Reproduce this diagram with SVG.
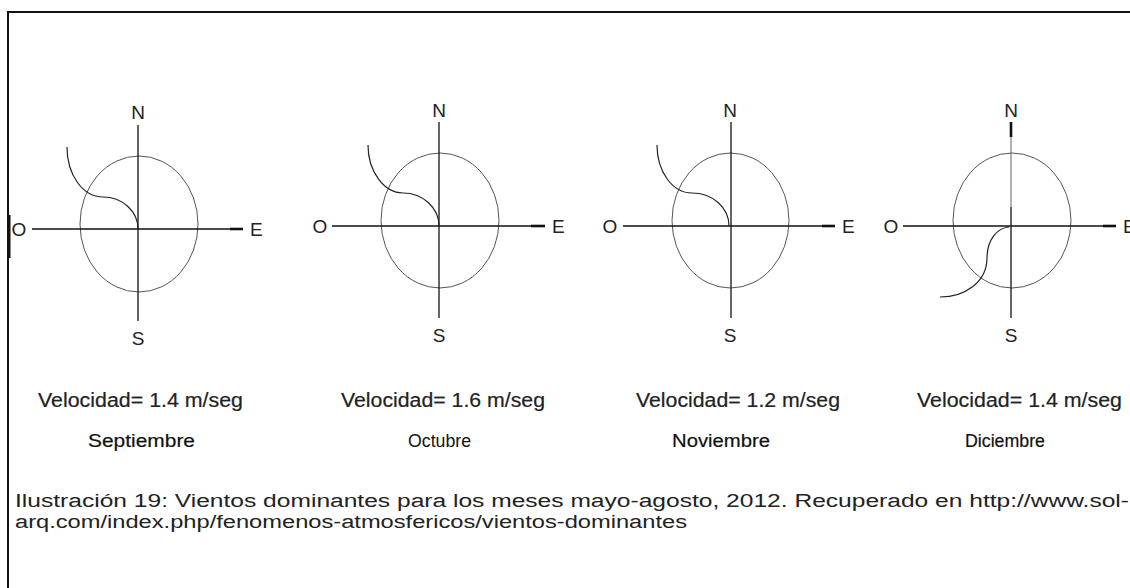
<svg xmlns="http://www.w3.org/2000/svg" width="1130" height="588" viewBox="0 0 1130 588">
<style>
.ax{stroke:#111;stroke-width:1.3;fill:none}
.tk{stroke:#111;stroke-width:2.6;fill:none}
.el{stroke:#555;stroke-width:1;fill:none}
.wd{stroke:#222;stroke-width:1.2;fill:none}
.lb{font-family:"Liberation Sans",Arial,sans-serif;font-size:19px;fill:#222}
.vel{font-family:"Liberation Sans",Arial,sans-serif;font-size:20px;fill:#222;stroke:#222;stroke-width:0.2}
.mon{font-family:"Liberation Sans",Arial,sans-serif;font-size:18px;fill:#111}
.bd{stroke:#111;stroke-width:0.2}
.cap{font-family:"Liberation Sans",Arial,sans-serif;font-size:18px;fill:#222}
</style>
<rect width="1130" height="588" fill="#fff"/>
<g id="frame">
<path d="M8,588 V12 H1130" stroke="#111" stroke-width="2" fill="none"/>
<rect x="7" y="215" width="3.5" height="43" fill="#111"/>
</g>
<g id="septiembre">
<ellipse class="el" cx="139" cy="224" rx="59" ry="68"/>
<line class="ax" x1="138" y1="125" x2="138" y2="321"/>
<line class="ax" x1="32" y1="229" x2="243" y2="229"/>
<line class="tk" x1="230" y1="229" x2="243" y2="229"/>
<path class="wd" d="M67,147 C67,175 83,197 103,197 C122,197 138,211 138,229"/>
<text class="lb" x="138" y="119" text-anchor="middle">N</text>
<text class="lb" x="138" y="345" text-anchor="middle">S</text>
<text class="lb" x="19" y="236" text-anchor="middle">O</text>
<text class="lb" x="250" y="236">E</text>
<text class="vel" x="38" y="407" textLength="205" lengthAdjust="spacingAndGlyphs">Velocidad= 1.4 m/seg</text>
<text class="mon bd" x="88" y="447" textLength="107" lengthAdjust="spacingAndGlyphs">Septiembre</text>
</g>
<g id="octubre">
<ellipse class="el" cx="440" cy="220.5" rx="59" ry="67.5"/>
<line class="ax" x1="439" y1="122" x2="439" y2="318"/>
<line class="ax" x1="332" y1="226" x2="545" y2="226"/>
<line class="tk" x1="531" y1="226" x2="545" y2="226"/>
<path class="wd" d="M368,145 C368,171.5 384,193 403,193 C423,193 439,208 439,226"/>
<text class="lb" x="439" y="117" text-anchor="middle">N</text>
<text class="lb" x="439" y="342" text-anchor="middle">S</text>
<text class="lb" x="320" y="233" text-anchor="middle">O</text>
<text class="lb" x="552" y="233">E</text>
<text class="vel" x="341" y="407" textLength="204" lengthAdjust="spacingAndGlyphs">Velocidad= 1.6 m/seg</text>
<text class="mon" x="408" y="447" textLength="63" lengthAdjust="spacingAndGlyphs">Octubre</text>
</g>
<g id="noviembre">
<ellipse class="el" cx="730.5" cy="220.5" rx="58.5" ry="67.5"/>
<line class="ax" x1="731" y1="122" x2="731" y2="318"/>
<line class="ax" x1="623" y1="226" x2="835" y2="226"/>
<line class="tk" x1="822" y1="226" x2="835" y2="226"/>
<path class="wd" d="M657,145 C657,171 672,193 692,193 C713,193 729,208 729,226"/>
<text class="lb" x="730" y="117" text-anchor="middle">N</text>
<text class="lb" x="730" y="342" text-anchor="middle">S</text>
<text class="lb" x="610" y="233" text-anchor="middle">O</text>
<text class="lb" x="842" y="233">E</text>
<text class="vel" x="636" y="407" textLength="204" lengthAdjust="spacingAndGlyphs">Velocidad= 1.2 m/seg</text>
<text class="mon bd" x="672" y="447" textLength="98" lengthAdjust="spacingAndGlyphs">Noviembre</text>
</g>
<g id="diciembre">
<ellipse class="el" cx="1012" cy="220.5" rx="59" ry="67.5"/>
<line x1="1011" y1="137" x2="1011" y2="207" stroke="#666" stroke-width="1"/>
<line class="ax" x1="1011" y1="207" x2="1011" y2="318"/>
<line class="tk" x1="1011" y1="122" x2="1011" y2="137"/>
<line class="ax" x1="903" y1="226" x2="1116" y2="226"/>
<line class="tk" x1="1103" y1="226" x2="1116" y2="226"/>
<path class="wd" d="M1009,227 C997,228 987,240 987,258 C987,282 965,297 940,297"/>
<text class="lb" x="1011" y="117" text-anchor="middle">N</text>
<text class="lb" x="1011" y="342" text-anchor="middle">S</text>
<text class="lb" x="891" y="233" text-anchor="middle">O</text>
<text class="lb" x="1123" y="233">E</text>
<text class="vel" x="917" y="407" textLength="205" lengthAdjust="spacingAndGlyphs">Velocidad= 1.4 m/seg</text>
<text class="mon bd" x="965" y="447" textLength="80" lengthAdjust="spacingAndGlyphs">Diciembre</text>
</g>
<g id="caption">
<text class="cap" x="15" y="507" textLength="1114" lengthAdjust="spacingAndGlyphs">Ilustración 19: Vientos dominantes para los meses mayo-agosto, 2012. Recuperado en http://www.sol-</text>
<text class="cap" x="15" y="528" textLength="672" lengthAdjust="spacingAndGlyphs">arq.com/index.php/fenomenos-atmosfericos/vientos-dominantes</text>
</g>
</svg>
